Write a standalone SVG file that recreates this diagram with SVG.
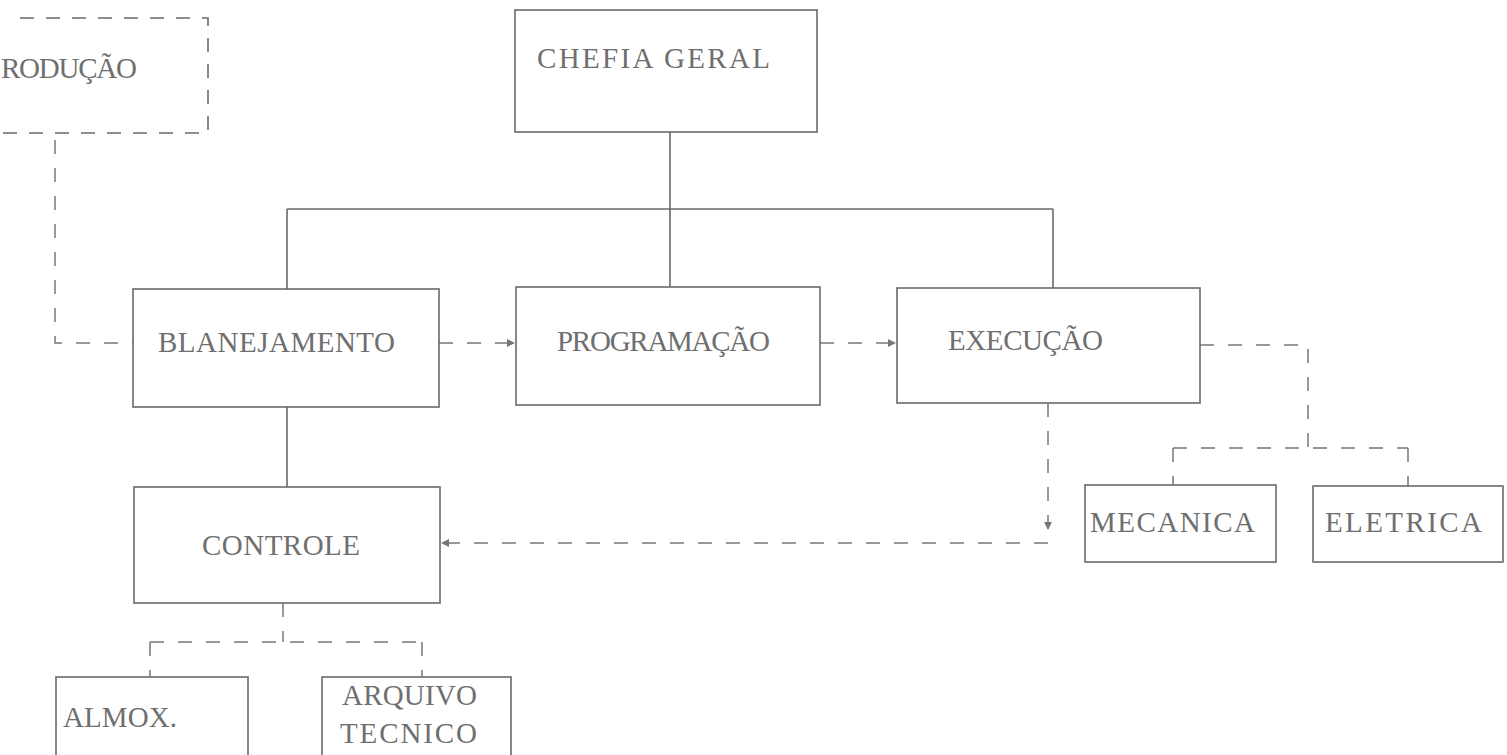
<svg xmlns="http://www.w3.org/2000/svg" width="1507" height="755" viewBox="0 0 1507 755">
<style>
.box{fill:none;stroke:#6a6a6a;stroke-width:1.6}
.dbox{fill:none;stroke:#6a6a6a;stroke-width:1.6;stroke-dasharray:14 12}
.t{font-family:"Liberation Serif",serif;font-size:29px;fill:#6f6f6f}
.solid{fill:none;stroke:#6a6a6a;stroke-width:1.6}
.dash{fill:none;stroke:#777;stroke-width:1.5;stroke-dasharray:14 14}
</style>
<defs>
<marker id="arr" markerWidth="10" markerHeight="10" refX="9" refY="5" orient="auto" markerUnits="userSpaceOnUse">
<path d="M1,1 L9,5 L1,9 Z" fill="#777"/>
</marker>
</defs>
<rect width="1507" height="755" fill="#ffffff"/>
<g id="connectors">
<path class="solid" d="M670,132 V209 M287,209 H1053 M287,209 V289 M670,209 V287 M1053,209 V288 M287,407 V487"/>
<path class="dash" d="M55,140 V343 H133"/>
<path class="dash" d="M439,343 H515" marker-end="url(#arr)"/>
<path class="dash" d="M820,343 H896" marker-end="url(#arr)"/>
<path class="dash" d="M1200,345 H1308 V448 M1173,448 H1408 M1173,448 V485 M1408,448 V486"/>
<path class="dash" d="M1048,403 V530" marker-end="url(#arr)"/>
<path class="dash" d="M1048,543 H441" marker-end="url(#arr)"/>
<path class="dash" d="M283,603 V642 M150,642 H422 M150,642 V677 M422,642 V677"/>
</g>
<g id="producao">
<path class="dbox" d="M20,18 H208 V133 H0"/>
<text class="t" x="1" y="78" textLength="136" lengthAdjust="spacing">RODUÇÃO</text>
</g>
<g id="chefia">
<rect class="box" x="515" y="10" width="302" height="122"/>
<text class="t" x="537" y="68" textLength="233" lengthAdjust="spacing">CHEFIA GERAL</text>
</g>
<g id="planejamento">
<rect class="box" x="133" y="289" width="306" height="118"/>
<text class="t" x="158" y="352" textLength="237" lengthAdjust="spacing">BLANEJAMENTO</text>
</g>
<g id="programacao">
<rect class="box" x="516" y="287" width="304" height="118"/>
<text class="t" x="557" y="351" textLength="213" lengthAdjust="spacing">PROGRAMAÇÃO</text>
</g>
<g id="execucao">
<rect class="box" x="897" y="288" width="303" height="115"/>
<text class="t" x="948" y="350" textLength="155" lengthAdjust="spacing">EXECUÇÃO</text>
</g>
<g id="controle">
<rect class="box" x="134" y="487" width="306" height="116"/>
<text class="t" x="202" y="555" textLength="158" lengthAdjust="spacing">CONTROLE</text>
</g>
<g id="mecanica">
<rect class="box" x="1085" y="485" width="191" height="77"/>
<text class="t" x="1090" y="532" textLength="165" lengthAdjust="spacing">MECANICA</text>
</g>
<g id="eletrica">
<rect class="box" x="1313" y="486" width="190" height="76"/>
<text class="t" x="1325" y="532" textLength="157" lengthAdjust="spacing">ELETRICA</text>
</g>
<g id="almox">
<rect class="box" x="56" y="677" width="192" height="82"/>
<text class="t" x="63" y="727" textLength="114" lengthAdjust="spacing">ALMOX.</text>
</g>
<g id="arquivo">
<rect class="box" x="322" y="677" width="189" height="82"/>
<text class="t" x="342" y="705" textLength="135" lengthAdjust="spacing">ARQUIVO</text>
<text class="t" x="340" y="743" textLength="137" lengthAdjust="spacing">TECNICO</text>
</g>
</svg>
